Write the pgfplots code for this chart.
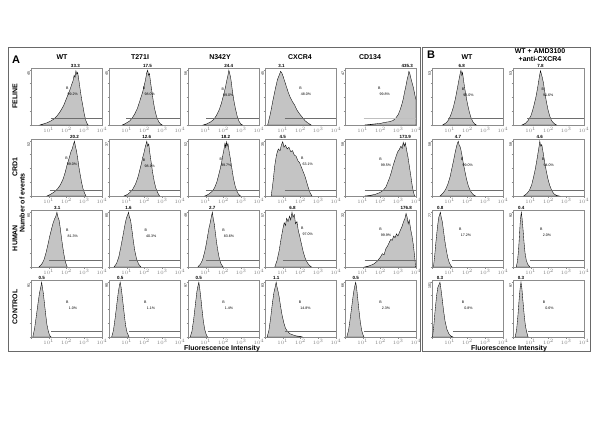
\documentclass[border=0pt]{standalone}
\usepackage{fontspec}
\setmainfont{Liberation Sans}
\usepackage{pgfplots}
\pgfplotsset{compat=1.18}
\definecolor{histgray}{RGB}{196,196,196}
\definecolor{framegray}{RGB}{105,105,105}
\definecolor{axgray}{RGB}{140,140,140}
\definecolor{gategray}{RGB}{110,110,110}
\pgfplotsset{hist/.style={scale only axis, width=71pt, height=57pt, anchor=south west,
  xmin=0, xmax=4, ymin=0, ymax=1.03, clip=false,
  axis line style={draw=axgray, line width=0.45pt},
  xtick={0,1,2,3,4}, xticklabels={,$10^1$,$10^2$,$10^3$,$10^4$},
  minor xtick={0.301,0.477,0.602,0.699,0.778,0.845,0.903,0.954,1.301,1.477,1.602,1.699,1.778,1.845,1.903,1.954,2.301,2.477,2.602,2.699,2.778,2.845,2.903,2.954,3.301,3.477,3.602,3.699,3.778,3.845,3.903,3.954},
  ytick={0,0.25,0.5,0.75,1}, yticklabels={},
  xtick pos=left, ytick pos=left, tick align=outside,
  major tick length=1.5pt, minor tick length=0.8pt,
  tick style={draw=axgray, line width=0.3pt},
  xticklabel style={font=\fontsize{2.4}{2.6}\selectfont, text=gray, inner sep=0.3pt}}}
\def\gy{0.12}
\def\gcol{gategray}
\newcommand{\panel}[9]{%
\begin{axis}[hist, at={(#1pt,#2pt)}]
\addplot[fill=histgray, draw=black, line width=0.35pt] coordinates {#3} \closedcycle;
\addplot[draw=\gcol, line width=0.55pt] coordinates {(#7,\gy) (4,\gy)};
\node[font=\fontsize{3.5}{4}\selectfont, rotate=90, anchor=south, inner sep=0.8pt] at (rel axis cs:0,0.9) {#4};
\node[font=\fontsize{4.5}{5}\selectfont\bfseries, anchor=south, inner sep=0.6pt] at (axis cs:#6,1.03) {#5};
\node[font=\fontsize{3.6}{4}\selectfont, inner sep=0pt] (b) at (axis cs:#8) {B};
\node[font=\fontsize{3.6}{4}\selectfont, inner sep=0pt] at ([xshift=5.5pt,yshift=-6pt]b.center) {#9};
\end{axis}}
\begin{document}
\begin{tikzpicture}[x=1pt,y=1pt]
\useasboundingbox (0,0) rectangle (600,424);
\fill[white] (0,0) rectangle (600,424);
\draw[framegray, line width=0.9pt] (8,73) rectangle (420,377);
\draw[framegray, line width=0.9pt] (422,73) rectangle (590,377);
% ---------------- Row 1 FELINE
\def\gy{0.12}
\panel{31}{299}{(0.5,0) (0.7,0.02) (0.9,0.04) (1.1,0.07) (1.3,0.11) (1.45,0.16) (1.6,0.22) (1.75,0.3) (1.85,0.36) (1.95,0.44) (2.05,0.52) (2.15,0.6) (2.22,0.66) (2.3,0.74) (2.37,0.8) (2.43,0.9) (2.48,0.86) (2.53,0.98) (2.58,0.92) (2.63,0.95) (2.7,0.8) (2.78,0.62) (2.85,0.47) (2.93,0.33) (3.0,0.2) (3.08,0.09) (3.15,0.03) (3.22,0)}{45}{33.3}{2.5}{1.1}{2.04,0.67}{99.2\%}
\panel{109}{299}{(0.75,0) (0.95,0.03) (1.15,0.07) (1.3,0.12) (1.45,0.2) (1.6,0.3) (1.72,0.42) (1.82,0.52) (1.9,0.6) (1.97,0.7) (2.03,0.78) (2.08,0.86) (2.13,0.95) (2.18,0.99) (2.23,0.9) (2.28,0.93) (2.35,0.75) (2.42,0.6) (2.5,0.42) (2.58,0.28) (2.68,0.15) (2.8,0.06) (2.9,0.02) (3.0,0)}{45}{17.5}{2.17}{0.96}{1.98,0.67}{98.0\%}
\panel{188}{299}{(0.85,0) (1.05,0.02) (1.25,0.05) (1.45,0.1) (1.6,0.17) (1.75,0.27) (1.87,0.38) (1.97,0.5) (2.05,0.6) (2.12,0.7) (2.18,0.8) (2.24,0.88) (2.3,0.99) (2.36,0.92) (2.42,0.82) (2.5,0.62) (2.58,0.45) (2.67,0.3) (2.77,0.16) (2.87,0.07) (2.97,0.02) (3.07,0)}{56}{24.4}{2.3}{1.04}{1.96,0.65}{99.0\%}
\panel{265}{299}{(0.15,0) (0.3,0.2) (0.45,0.45) (0.58,0.65) (0.7,0.82) (0.8,0.9) (0.88,0.97) (0.95,0.94) (1.02,0.88) (1.1,0.8) (1.2,0.7) (1.3,0.6) (1.42,0.5) (1.55,0.42) (1.67,0.36) (1.8,0.27) (1.95,0.2) (2.1,0.14) (2.25,0.08) (2.4,0.04) (2.6,0)}{45}{3.1}{0.93}{1.1}{2.0,0.66}{48.0\%}
\def\gcol{lightgray}
\panel{345}{299}{(1.1,0) (1.4,0.01) (1.7,0.02) (2.0,0.03) (2.3,0.05) (2.5,0.06) (2.7,0.08) (2.85,0.12) (3.0,0.19) (3.1,0.27) (3.2,0.37) (3.28,0.47) (3.36,0.6) (3.44,0.72) (3.5,0.82) (3.56,0.9) (3.6,0.97) (3.65,0.93) (3.7,0.86) (3.75,0.8) (3.8,0.74) (3.85,0.68) (3.9,0.6) (3.95,0.52) (4.0,0.46) (4.0,0)}{47}{435.3}{3.5}{1.05}{1.93,0.66}{99.8\%}
\def\gcol{gategray}
\panel{432}{299}{(0.6,0) (0.8,0.04) (0.95,0.1) (1.08,0.2) (1.2,0.32) (1.3,0.45) (1.38,0.58) (1.45,0.7) (1.52,0.82) (1.58,0.92) (1.63,0.99) (1.68,0.9) (1.72,0.95) (1.78,0.8) (1.85,0.65) (1.93,0.5) (2.0,0.38) (2.1,0.24) (2.2,0.13) (2.3,0.06) (2.4,0.02) (2.5,0)}{53}{6.8}{1.68}{0.9}{1.75,0.64}{98.0\%}
\panel{513}{299}{(0.5,0) (0.7,0.03) (0.85,0.08) (1.0,0.16) (1.1,0.26) (1.2,0.38) (1.3,0.52) (1.38,0.66) (1.45,0.8) (1.5,0.9) (1.55,0.98) (1.6,0.92) (1.65,0.86) (1.72,0.75) (1.8,0.58) (1.88,0.42) (1.97,0.28) (2.07,0.16) (2.17,0.08) (2.3,0.03) (2.45,0)}{53}{7.8}{1.55}{0.8}{1.68,0.64}{91.6\%}
% ---------------- Row 2 CRD1
\def\gy{0.11}
\panel{31}{228}{(0.9,0) (1.1,0.03) (1.3,0.07) (1.5,0.13) (1.65,0.2) (1.8,0.3) (1.92,0.42) (2.02,0.55) (2.1,0.63) (2.18,0.72) (2.25,0.8) (2.32,0.85) (2.38,0.92) (2.45,0.99) (2.5,0.9) (2.56,0.82) (2.63,0.68) (2.7,0.52) (2.78,0.37) (2.86,0.23) (2.94,0.12) (3.02,0.05) (3.1,0)}{52}{20.2}{2.45}{1.07}{2.0,0.68}{99.0\%}
\panel{109}{228}{(0.85,0) (1.05,0.03) (1.2,0.07) (1.35,0.13) (1.5,0.22) (1.62,0.33) (1.72,0.45) (1.82,0.58) (1.9,0.7) (1.97,0.78) (2.03,0.87) (2.08,0.93) (2.13,0.99) (2.18,0.9) (2.24,0.94) (2.3,0.78) (2.38,0.6) (2.46,0.42) (2.55,0.26) (2.64,0.14) (2.74,0.06) (2.85,0)}{37}{12.6}{2.13}{1.1}{1.98,0.64}{98.1\%}
\panel{188}{228}{(0.95,0) (1.15,0.03) (1.35,0.08) (1.5,0.15) (1.62,0.25) (1.72,0.37) (1.82,0.5) (1.9,0.62) (1.97,0.75) (2.03,0.85) (2.08,0.95) (2.12,0.88) (2.16,0.98) (2.2,0.9) (2.25,0.95) (2.32,0.8) (2.4,0.65) (2.48,0.48) (2.56,0.32) (2.65,0.19) (2.75,0.09) (2.85,0.03) (2.96,0)}{52}{18.2}{2.13}{1.0}{1.85,0.66}{99.7\%}
\panel{265}{228}{(0.35,0) (0.45,0.25) (0.55,0.55) (0.65,0.75) (0.75,0.85) (0.85,0.82) (0.92,0.92) (1.0,0.98) (1.07,0.88) (1.15,0.92) (1.25,0.85) (1.35,0.88) (1.45,0.8) (1.55,0.82) (1.65,0.74) (1.75,0.72) (1.85,0.64) (1.95,0.6) (2.05,0.52) (2.15,0.44) (2.25,0.36) (2.35,0.25) (2.45,0.14) (2.55,0.05) (2.65,0)}{35}{4.5}{1.0}{1.1}{2.1,0.68}{63.1\%}
\panel{345}{228}{(1.1,0) (1.4,0.01) (1.7,0.03) (1.95,0.06) (2.15,0.1) (2.3,0.16) (2.4,0.24) (2.5,0.32) (2.6,0.42) (2.7,0.54) (2.78,0.62) (2.88,0.72) (2.97,0.8) (3.06,0.84) (3.15,0.9) (3.22,0.86) (3.28,0.97) (3.34,0.9) (3.4,0.96) (3.46,0.85) (3.55,0.7) (3.62,0.55) (3.7,0.38) (3.78,0.2) (3.85,0.08) (3.92,0)}{58}{173.9}{3.4}{1.1}{2.0,0.66}{99.5\%}
\panel{432}{228}{(0.45,0) (0.62,0.05) (0.77,0.12) (0.9,0.22) (1.02,0.35) (1.12,0.5) (1.22,0.65) (1.3,0.78) (1.37,0.88) (1.43,0.95) (1.48,0.99) (1.53,0.92) (1.6,0.88) (1.68,0.75) (1.76,0.6) (1.85,0.45) (1.95,0.3) (2.05,0.18) (2.17,0.09) (2.3,0.03) (2.45,0)}{58}{4.7}{1.47}{0.9}{1.7,0.66}{99.0\%}
\panel{513}{228}{(0.6,0) (0.77,0.04) (0.92,0.1) (1.05,0.2) (1.15,0.33) (1.25,0.48) (1.33,0.62) (1.4,0.76) (1.46,0.88) (1.51,0.99) (1.56,0.9) (1.62,0.93) (1.7,0.78) (1.78,0.62) (1.87,0.46) (1.96,0.32) (2.06,0.2) (2.18,0.1) (2.3,0.04) (2.45,0.01) (2.6,0)}{58}{4.6}{1.5}{0.9}{1.7,0.66}{94.0\%}
% ---------------- Row 3 HUMAN
\def\gy{0.12}
\panel{31}{157}{(0.45,0) (0.6,0.05) (0.72,0.12) (0.84,0.25) (0.95,0.4) (1.05,0.55) (1.15,0.68) (1.25,0.8) (1.33,0.87) (1.4,0.92) (1.46,0.99) (1.52,0.9) (1.58,0.85) (1.65,0.7) (1.72,0.52) (1.8,0.34) (1.88,0.18) (1.96,0.07) (2.04,0)}{80}{3.1}{1.48}{1.0}{2.04,0.66}{81.3\%}
\panel{109}{157}{(0.28,0) (0.42,0.06) (0.55,0.18) (0.66,0.35) (0.76,0.52) (0.85,0.68) (0.93,0.82) (1.0,0.9) (1.06,0.95) (1.1,0.99) (1.15,0.9) (1.21,0.86) (1.28,0.7) (1.36,0.5) (1.45,0.3) (1.55,0.15) (1.67,0.05) (1.8,0)}{80}{1.6}{1.1}{1.13}{2.07,0.66}{40.3\%}
\panel{188}{157}{(0.55,0) (0.7,0.05) (0.82,0.13) (0.93,0.26) (1.02,0.4) (1.1,0.55) (1.18,0.7) (1.25,0.8) (1.31,0.9) (1.37,0.99) (1.42,0.88) (1.48,0.78) (1.55,0.6) (1.62,0.42) (1.7,0.26) (1.78,0.13) (1.87,0.05) (1.98,0)}{48}{2.7}{1.37}{1.04}{2.0,0.66}{83.6\%}
\panel{265}{157}{(0.55,0) (0.68,0.12) (0.8,0.3) (0.9,0.5) (1.0,0.68) (1.08,0.8) (1.15,0.75) (1.22,0.88) (1.3,0.82) (1.38,0.92) (1.45,0.85) (1.52,0.99) (1.58,0.9) (1.65,0.95) (1.72,0.78) (1.8,0.82) (1.88,0.65) (1.96,0.55) (2.05,0.42) (2.15,0.28) (2.25,0.17) (2.38,0.08) (2.5,0.03) (2.62,0)}{57}{6.8}{1.55}{1.0}{2.1,0.7}{97.0\%}
\panel{345}{157}{(1.1,0) (1.35,0.02) (1.6,0.05) (1.8,0.1) (2.0,0.18) (2.1,0.24) (2.2,0.22) (2.3,0.33) (2.4,0.38) (2.5,0.45) (2.58,0.5) (2.66,0.48) (2.74,0.56) (2.82,0.53) (2.9,0.6) (2.98,0.56) (3.06,0.62) (3.14,0.68) (3.22,0.74) (3.3,0.82) (3.38,0.88) (3.44,0.97) (3.5,0.9) (3.56,0.78) (3.62,0.85) (3.7,0.68) (3.78,0.55) (3.85,0.4) (3.92,0.2) (3.98,0)}{32}{176.8}{3.45}{1.1}{2.0,0.68}{99.9\%}
\panel{432}{157}{(0.08,0) (0.15,0.2) (0.22,0.45) (0.3,0.7) (0.37,0.88) (0.43,0.95) (0.47,0.99) (0.52,0.9) (0.58,0.82) (0.65,0.65) (0.72,0.48) (0.8,0.32) (0.88,0.18) (0.97,0.08) (1.05,0.03) (1.13,0)}{77}{0.8}{0.47}{1.13}{1.6,0.68}{17.2\%}
\panel{513}{157}{(0.18,0) (0.25,0.1) (0.31,0.3) (0.36,0.55) (0.4,0.78) (0.44,0.92) (0.47,0.99) (0.51,0.88) (0.56,0.7) (0.62,0.45) (0.68,0.25) (0.75,0.12) (0.83,0.05) (0.95,0)}{92}{0.4}{0.47}{0.95}{1.6,0.68}{2.0\%}
% ---------------- Row 4 CONTROL
\def\gy{0.1}
\panel{31}{87}{(0.1,0) (0.2,0.15) (0.3,0.38) (0.4,0.62) (0.48,0.8) (0.55,0.9) (0.6,0.99) (0.65,0.88) (0.7,0.78) (0.76,0.6) (0.83,0.4) (0.9,0.22) (0.98,0.1) (1.05,0.03) (1.13,0)}{91}{0.5}{0.6}{1.13}{2.05,0.62}{1.0\%}
\panel{109}{87}{(0.15,0) (0.25,0.12) (0.35,0.35) (0.45,0.62) (0.52,0.8) (0.58,0.92) (0.63,0.99) (0.68,0.9) (0.73,0.78) (0.8,0.58) (0.87,0.38) (0.94,0.2) (1.02,0.08) (1.13,0)}{90}{0.5}{0.63}{1.13}{2.05,0.62}{1.1\%}
\panel{188}{87}{(0.12,0) (0.22,0.1) (0.32,0.32) (0.42,0.6) (0.5,0.82) (0.56,0.92) (0.61,0.99) (0.66,0.88) (0.72,0.72) (0.79,0.5) (0.86,0.3) (0.94,0.14) (1.02,0.05) (1.1,0)}{97}{0.5}{0.61}{1.1}{2.0,0.62}{1.4\%}
\panel{265}{87}{(0.12,0) (0.22,0.12) (0.32,0.35) (0.42,0.62) (0.5,0.8) (0.57,0.9) (0.63,0.99) (0.68,0.9) (0.74,0.82) (0.8,0.72) (0.88,0.55) (0.96,0.4) (1.05,0.27) (1.15,0.16) (1.27,0.1) (1.4,0.06) (1.55,0.04) (1.75,0.02) (2.0,0.01) (2.1,0)}{83}{1.1}{0.63}{1.1}{1.97,0.62}{14.8\%}
\panel{345}{87}{(0.1,0) (0.2,0.12) (0.3,0.35) (0.4,0.6) (0.48,0.8) (0.55,0.92) (0.6,0.99) (0.65,0.9) (0.71,0.72) (0.78,0.5) (0.86,0.28) (0.94,0.12) (1.0,0.05) (1.07,0)}{66}{0.5}{0.6}{1.07}{2.0,0.62}{2.3\%}
\panel{432}{87}{(0.03,0) (0.1,0.2) (0.18,0.5) (0.26,0.75) (0.33,0.9) (0.4,0.95) (0.45,0.99) (0.5,0.88) (0.57,0.7) (0.65,0.48) (0.74,0.28) (0.84,0.14) (0.95,0.06) (1.05,0.02) (1.18,0)}{101}{0.3}{0.45}{1.18}{1.75,0.62}{0.8\%}
\panel{513}{87}{(0.12,0) (0.2,0.12) (0.28,0.4) (0.35,0.7) (0.4,0.88) (0.45,0.99) (0.5,0.88) (0.56,0.65) (0.63,0.4) (0.7,0.2) (0.78,0.08) (0.85,0)}{97}{0.3}{0.45}{0.85}{1.75,0.62}{0.6\%}
% ---------------- Text
\begin{scope}[font=\fontsize{7}{8}\selectfont\bfseries]
\node at (62,367) {WT};
\node at (140,367) {T271I};
\node at (220,367) {N342Y};
\node at (300,367) {CXCR4};
\node at (370,367) {CD134};
\node at (467,367) {WT};
\node at (540,373) {WT + AMD3100};
\node at (540,365) {+anti-CXCR4};
\node[rotate=90] at (15,328) {FELINE};
\node[rotate=90] at (15,257) {CRD1};
\node[rotate=90] at (15,186) {HUMAN};
\node[rotate=90] at (15,117) {CONTROL};
\node[rotate=90] at (22,221) {Number of events};
\node[inner sep=0.3pt] at (222,75.5) {Fluorescence Intensity};
\node[inner sep=0.3pt] at (509,75.5) {Fluorescence Intensity};
\end{scope}
\node[font=\fontsize{11}{12}\selectfont\bfseries] at (16,364) {A};
\node[font=\fontsize{11}{12}\selectfont\bfseries] at (431,369) {B};
\end{tikzpicture}
\end{document}
